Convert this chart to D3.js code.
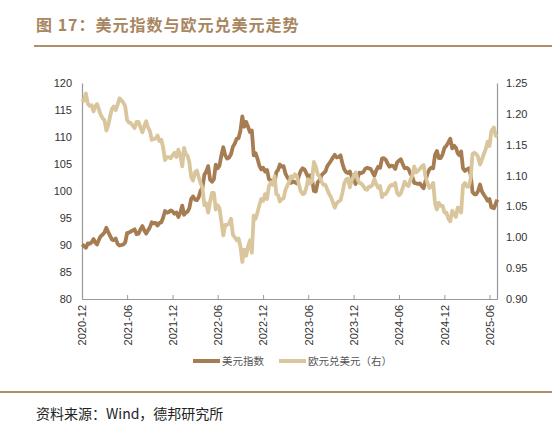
<!DOCTYPE html>
<html>
<head>
<meta charset="utf-8">
<script src="https://cdn.jsdelivr.net/npm/d3@7"></script>
<style>
  body { margin: 0; background: #fff; }
  svg text { font-family: "Liberation Sans", Arial, sans-serif; }
  .cjk { font-family: "Noto Sans CJK SC", sans-serif; }
</style>
</head>
<body>
<div id="chart"></div>
<script>
// Data: weekly readings grouped by month (first month from the 20th, last month up to the 20th)

const months = ["2020-12","2021-01","2021-02","2021-03","2021-04","2021-05","2021-06","2021-07","2021-08","2021-09","2021-10","2021-11",
  "2021-12","2022-01","2022-02","2022-03","2022-04","2022-05","2022-06","2022-07","2022-08","2022-09","2022-10","2022-11",
  "2022-12","2023-01","2023-02","2023-03","2023-04","2023-05","2023-06","2023-07","2023-08","2023-09","2023-10","2023-11",
  "2023-12","2024-01","2024-02","2024-03","2024-04","2024-05","2024-06","2024-07","2024-08","2024-09","2024-10","2024-11",
  "2024-12","2025-01","2025-02","2025-03","2025-04","2025-05","2025-06","2025-07"];

const usdIndex = [
  [90.1, 89.9], [89.5, 90.3, 90.2, 90.5], [91.1, 90.5, 90.1, 90.9], [91.6, 91.9, 92.3, 93.2],
  [92.4, 91.7, 91.0, 90.9], [91.2, 90.2, 89.9, 90.0], [90.1, 90.5, 92.2, 92.3], [92.5, 92.7, 92.9, 92.0],
  [92.1, 92.9, 93.5, 92.7], [92.1, 92.7, 93.3, 94.2], [94.0, 94.1, 93.6, 94.1], [94.2, 95.1, 96.3, 96.0],
  [96.1, 96.4, 96.2, 95.8], [96.0, 95.2, 96.0, 97.3], [95.6, 96.0, 96.2, 96.8], [98.5, 99.0, 98.4, 98.3],
  [98.9, 100.1, 100.6, 103.0], [103.6, 104.6, 102.1, 101.7], [102.2, 104.9, 104.2, 104.7], [106.6, 108.1, 106.6, 106.0],
  [106.2, 106.8, 108.2, 108.8], [109.7, 109.8, 111.2, 113.8], [111.9, 112.8, 111.9, 110.9], [111.2, 106.6, 107.0, 106.0],
  [104.7, 104.0, 104.3, 103.6], [103.9, 102.2, 101.9, 101.9], [101.6, 103.5, 103.9, 104.9], [104.5, 104.6, 103.2, 102.5],
  [102.1, 101.5, 101.8, 101.6], [101.4, 102.7, 103.7, 104.2], [104.0, 103.3, 102.5, 102.9], [102.3, 100.0, 99.9, 101.6],
  [102.0, 102.9, 103.3, 103.6], [104.6, 105.1, 105.6, 106.2], [106.7, 106.2, 106.3, 106.6], [105.1, 104.0, 103.5, 103.3],
  [103.6, 102.6, 102.2, 101.3], [102.4, 103.4, 103.3, 103.5], [104.1, 104.3, 104.2, 104.1], [103.5, 102.8, 103.8, 104.5],
  [104.3, 106.0, 106.1, 105.8], [105.1, 104.5, 104.7, 104.6], [104.1, 105.3, 105.6, 105.9], [105.0, 104.2, 104.3, 104.1],
  [103.2, 102.7, 101.5, 101.4], [101.3, 101.4, 100.9, 100.5], [101.9, 103.2, 104.0, 104.3], [104.2, 106.7, 107.4, 106.1],
  [106.1, 106.8, 108.0, 108.4], [109.0, 109.7, 107.9, 108.4], [108.0, 107.0, 106.6, 107.3], [104.2, 103.7, 104.0, 104.2],
  [103.0, 99.8, 99.4, 99.4], [100.0, 101.2, 99.9, 99.3], [98.8, 98.2, 98.5, 97.0], [96.8, 97.6, 98.4]
];

const eurUsd = [
  [1.224, 1.221], [1.233, 1.216, 1.213, 1.214], [1.204, 1.212, 1.216, 1.208], [1.199, 1.193, 1.190, 1.173],
  [1.181, 1.196, 1.208, 1.212], [1.206, 1.215, 1.225, 1.222], [1.218, 1.212, 1.190, 1.186], [1.185, 1.181, 1.177, 1.187],
  [1.187, 1.178, 1.170, 1.180], [1.188, 1.178, 1.172, 1.158], [1.159, 1.160, 1.165, 1.156], [1.158, 1.145, 1.125, 1.130],
  [1.130, 1.128, 1.133, 1.137], [1.130, 1.142, 1.133, 1.115], [1.145, 1.135, 1.132, 1.122], [1.098, 1.092, 1.105, 1.108],
  [1.097, 1.088, 1.080, 1.052], [1.055, 1.040, 1.058, 1.072], [1.072, 1.045, 1.052, 1.047], [1.025, 1.003, 1.020, 1.020],
  [1.022, 1.030, 1.004, 1.000], [0.995, 0.998, 0.985, 0.960], [0.980, 0.970, 0.985, 0.995], [0.975, 1.035, 1.030, 1.040],
  [1.052, 1.062, 1.059, 1.070], [1.062, 1.083, 1.089, 1.085], [1.099, 1.070, 1.068, 1.058], [1.062, 1.063, 1.077, 1.084],
  [1.090, 1.099, 1.097, 1.102], [1.100, 1.087, 1.075, 1.070], [1.071, 1.080, 1.094, 1.087], [1.090, 1.122, 1.115, 1.102],
  [1.098, 1.090, 1.085, 1.085], [1.077, 1.070, 1.065, 1.057], [1.048, 1.055, 1.058, 1.060], [1.072, 1.087, 1.094, 1.095],
  [1.081, 1.092, 1.100, 1.105], [1.094, 1.088, 1.087, 1.083], [1.078, 1.077, 1.082, 1.082], [1.085, 1.094, 1.086, 1.080],
  [1.083, 1.065, 1.070, 1.070], [1.075, 1.082, 1.085, 1.084], [1.088, 1.072, 1.068, 1.071], [1.080, 1.090, 1.085, 1.083],
  [1.093, 1.100, 1.115, 1.105], [1.108, 1.111, 1.115, 1.117], [1.098, 1.088, 1.080, 1.083], [1.088, 1.055, 1.045, 1.056],
  [1.051, 1.051, 1.040, 1.040], [1.030, 1.026, 1.043, 1.037], [1.033, 1.048, 1.047, 1.040], [1.084, 1.088, 1.082, 1.082],
  [1.095, 1.135, 1.137, 1.135], [1.130, 1.118, 1.126, 1.135], [1.143, 1.155, 1.148, 1.172], [1.178, 1.165, 1.163]
];

const xTickLabels = ["2020-12","2021-06","2021-12","2022-06","2022-12","2023-06","2023-12","2024-06","2024-12","2025-06"];
const leftTicks = [80, 85, 90, 95, 100, 105, 110, 115, 120];
const rightTicks = [0.90, 0.95, 1.00, 1.05, 1.10, 1.15, 1.20, 1.25];
const seriesNames = ["美元指数", "欧元兑美元（右）"];

// Dimensions

const W = 552, H = 440;
const plot = { left: 82, right: 497, top: 83, bottom: 299 };
const colors = ["#a67c52", "#d9c69d"];
const parseMonth = d3.timeParse("%Y-%m");

// Spread each month's readings over its days

function toPoints(groups) {
  const pts = [];
  groups.forEach((vals, i) => {
    const m = parseMonth(months[i]);
    const next = d3.timeMonth.offset(m, 1);
    let start = m, end = next;
    if (i === 0) start = d3.timeDay.offset(m, 19);
    if (i === months.length - 1) end = d3.timeDay.offset(m, 20);
    const span = end - start;
    vals.forEach((v, k) => {
      const t = (i === 0) ? k / vals.length : (i === months.length - 1 ? (k + 1) / vals.length : (k + 0.5) / vals.length);
      pts.push({ date: new Date(+start + span * t), value: v });
    });
  });
  return pts;
}

const usdData = toPoints(usdIndex);
const eurData = toPoints(eurUsd);

// Scales

const x = d3.scaleTime()
  .domain([new Date(2020, 11, 20), new Date(2025, 6, 20)])
  .range([plot.left, plot.right]);

const yL = d3.scaleLinear().domain([80, 120]).range([plot.bottom, plot.top]);
const yR = d3.scaleLinear().domain([0.90, 1.25]).range([plot.bottom, plot.top]);

const svg = d3.select("#chart").append("svg")
  .attr("width", W)
  .attr("height", H);

// Title and rule

svg.append("text")
  .attr("class", "cjk")
  .attr("x", 36).attr("y", 31)
  .attr("font-size", 16).attr("font-weight", "bold")
  .attr("letter-spacing", 1)
  .attr("fill", "#a8865f")
  .text("图 17：美元指数与欧元兑美元走势");

svg.append("line")
  .attr("x1", 34).attr("x2", W).attr("y1", 46).attr("y2", 46)
  .attr("stroke", "#b08e6a").attr("stroke-width", 2);

// Axes

const tickDates = xTickLabels.map(s => d3.timeDay.offset(parseMonth(s), 19));

const xAxis = svg.append("g")
  .attr("transform", `translate(0,${plot.bottom})`)
  .call(d3.axisBottom(x).tickValues(tickDates).tickFormat(d3.timeFormat("%Y-%m")).tickSize(-4).tickSizeOuter(0));

xAxis.selectAll("text")
  .attr("transform", "rotate(-90)")
  .attr("text-anchor", "end")
  .attr("x", -6).attr("y", 0).attr("dy", "0.35em")
  .attr("font-size", 11).attr("fill", "#333");

const leftAxis = svg.append("g")
  .attr("transform", `translate(${plot.left},0)`)
  .call(d3.axisLeft(yL).tickValues(leftTicks).tickSize(0).tickPadding(10));

const rightAxis = svg.append("g")
  .attr("transform", `translate(${plot.right},0)`)
  .call(d3.axisRight(yR).tickValues(rightTicks).tickFormat(d3.format(".2f")).tickSize(0).tickPadding(9));

[xAxis, leftAxis, rightAxis].forEach(g => {
  g.select(".domain").attr("stroke", "#999").attr("stroke-width", 1.2);
  g.selectAll("line").attr("stroke", "#999");
  g.selectAll("text").attr("font-size", 11).attr("fill", "#333");
});

// Lines

const lineL = d3.line().x(d => x(d.date)).y(d => yL(d.value));
const lineR = d3.line().x(d => x(d.date)).y(d => yR(d.value));

svg.append("path")
  .datum(usdData)
  .attr("fill", "none")
  .attr("stroke", colors[0])
  .attr("stroke-width", 3.8)
  .attr("stroke-linejoin", "round")
  .attr("d", lineL);

svg.append("path")
  .datum(eurData)
  .attr("fill", "none")
  .attr("stroke", colors[1])
  .attr("stroke-width", 3.8)
  .attr("stroke-linejoin", "round")
  .attr("d", lineR);

// Legend

const legendX = [193, 279];
seriesNames.forEach((name, i) => {
  const g = svg.append("g").attr("transform", `translate(${legendX[i]},361)`);
  g.append("line").attr("x1", 0).attr("x2", 27)
    .attr("stroke", colors[i]).attr("stroke-width", 4);
  g.append("text").attr("class", "cjk")
    .attr("x", 29).attr("dy", "0.35em")
    .attr("font-size", 10.5).attr("fill", "#555")
    .text(name);
});

// Footer

svg.append("line")
  .attr("x1", 0).attr("x2", W).attr("y1", 392).attr("y2", 392)
  .attr("stroke", "#b08e6a").attr("stroke-width", 2);

svg.append("text")
  .attr("class", "cjk")
  .attr("x", 36).attr("y", 419)
  .attr("font-size", 14).attr("fill", "#222")
  .text("资料来源：Wind，德邦研究所");
</script>
</body>
</html>
